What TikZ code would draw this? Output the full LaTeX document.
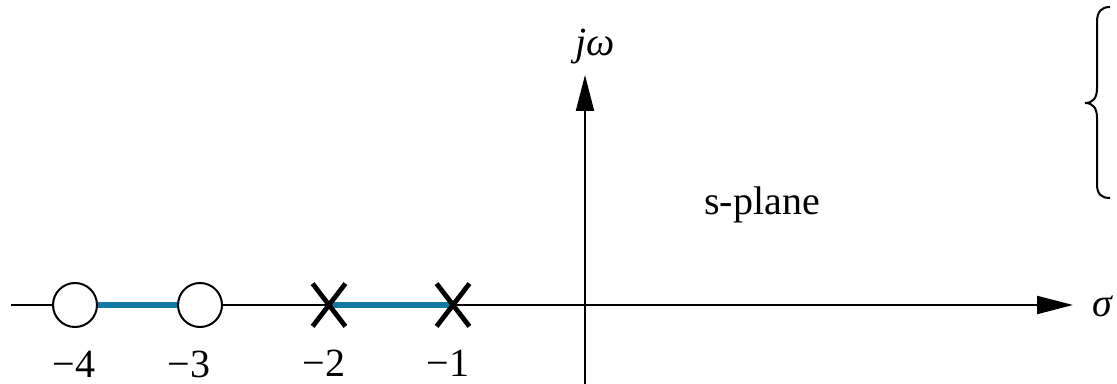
\documentclass[tikz,border=0pt]{standalone}
\usepackage{fontspec}
\setmainfont{Liberation Serif}
\usetikzlibrary{arrows.meta,shapes.misc}
\definecolor{locusblue}{RGB}{18,122,162}
\begin{document}
\begin{tikzpicture}[x=0.5pt,y=-0.5pt,
  axis/.style={line width=1pt,-{Triangle[length=18pt,width=9pt]}},
  zero/.style={circle,draw,line width=1pt,fill=white,minimum size=22pt,inner sep=0pt},
  pole/.style={cross out,draw,line width=2.4pt,minimum width=14pt,minimum height=19pt,inner sep=0pt},
  locus/.style={locusblue,line width=3pt},
  lbl/.style={font=\fontsize{20}{24}\selectfont,inner sep=0pt},
  brace/.style={line width=1pt}]
\useasboundingbox (0,0) rectangle (1117,384);
% axes
\coordinate (xs) at (11,305);
\coordinate (xe) at (1073,305);
\coordinate (ys) at (585,384);
\coordinate (ye) at (585,75);
\draw[axis] (xs) -- (xe);
\draw[axis] (ys) -- (ye);
% zeros and poles
\node[zero] (z4) at (75,305) {};
\node[zero] (z3) at (200,305) {};
\coordinate (p2c) at (329,305);
\coordinate (p1c) at (453,305);
\draw[locus] (z4.east) -- (z3.west);
\draw[locus] (p2c) -- (p1c);
\node[pole] (p2) at (p2c) {};
\node[pole] (p1) at (p1c) {};
% tick labels
\node[lbl,anchor=base] (l4) at (74,377) {−4};
\node[lbl,anchor=base] (l3) at (189,377) {−3};
\node[lbl,anchor=base] (l2) at (324,376) {−2};
\node[lbl,anchor=base] (l1) at (448,376) {−1};
% axis labels
\node[lbl,anchor=base] (jw) at (595,56) {\textit{jω}};
\node[lbl,anchor=base west] (sig) at (1092,316) {\textit{σ}};
\node[lbl,anchor=base west] (spl) at (704,215) {s-plane};
% brace
\draw[brace] (1110,7) .. controls (1101,7) and (1097,12) .. (1097,22)
  -- (1097,88) .. controls (1097,98) and (1093,103) .. (1085,103)
  .. controls (1093,103) and (1097,108) .. (1097,118)
  -- (1097,184) .. controls (1097,194) and (1101,198) .. (1110,198);
\end{tikzpicture}
\end{document}
